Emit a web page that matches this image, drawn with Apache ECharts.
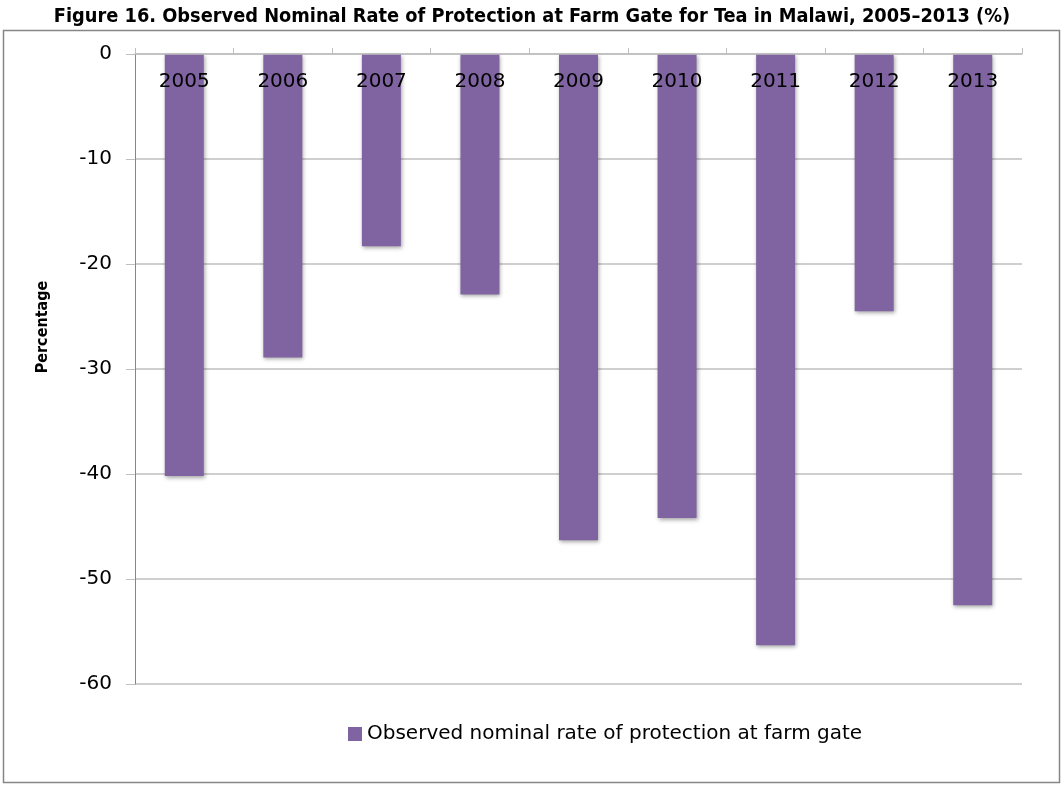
<!DOCTYPE html>
<html>
<head>
<meta charset="utf-8">
<style>
  html, body { margin: 0; padding: 0; background: #ffffff; }
  #chart { width: 1064px; height: 785px; }
</style>
<script src="https://cdn.jsdelivr.net/npm/echarts@6/dist/echarts.min.js"></script>
</head>
<body>
<div id="chart"></div>
<script>
// Years on the category axis
const years = ['2005', '2006', '2007', '2008', '2009', '2010', '2011', '2012', '2013'];
// Observed nominal rate of protection at farm gate (%)
const nrpValues = [-40.2, -28.9, -18.3, -22.9, -46.3, -44.2, -56.3, -24.5, -52.5];
// Value axis ticks
const yTicks = [0, -10, -20, -30, -40, -50, -60];

const seriesName = 'Observed nominal rate of protection at farm gate';
const barColor = '#8064A2';

const chart = echarts.init(document.getElementById('chart'), null, { renderer: 'canvas' });

chart.setOption({
  backgroundColor: '#ffffff',
  animation: false,
  title: {
    text: 'Figure 16. Observed Nominal Rate of Protection at Farm Gate for Tea in Malawi, 2005\u20132013 (%)',
    left: 'center',
    top: 2,
    textStyle: {
      fontFamily: 'DejaVu Sans Condensed',
      fontWeight: 'bold',
      fontSize: 19.8,
      color: '#000000'
    }
  },
  graphic: [{
    type: 'rect',
    shape: { x: 3.5, y: 30.5, width: 1056, height: 752 },
    style: { fill: 'none', stroke: '#868686', lineWidth: 1.5 },
    silent: true,
    z: -1
  }, {
    // value axis title, centred on the upper part of the plot
    type: 'text',
    x: 43,
    y: 327,
    rotation: Math.PI / 2,
    style: {
      text: 'Percentage',
      fontFamily: 'DejaVu Sans Condensed',
      fontWeight: 'bold',
      fontSize: 16,
      fill: '#000000',
      align: 'center',
      verticalAlign: 'middle'
    },
    silent: true
  }],
  legend: {
    data: [seriesName],
    left: 343,
    top: 719,
    itemWidth: 14,
    itemHeight: 14,
    itemGap: 6,
    icon: 'rect',
    textStyle: {
      fontFamily: 'DejaVu Sans',
      fontSize: 20,
      color: '#000000'
    }
  },
  grid: {
    left: 135,
    right: 42,
    top: 54,
    bottom: 101,
    containLabel: false
  },
  xAxis: {
    type: 'category',
    data: years,
    position: 'top',
    z: 10,
    axisLine: { onZero: false, lineStyle: { color: '#bfbfbf', width: 1.5 } },
    axisTick: { show: true, inside: false, length: 6, lineStyle: { color: '#bfbfbf' } },
    axisLabel: {
      inside: true,
      margin: 18,
      fontFamily: 'DejaVu Sans',
      fontSize: 20,
      color: '#000000'
    },
    splitLine: { show: false }
  },
  yAxis: {
    type: 'value',
    min: -60,
    max: 0,
    interval: 10,
    axisLine: { show: true, lineStyle: { color: '#868686', width: 1 } },
    axisTick: { show: true, length: 9, lineStyle: { color: '#bfbfbf' } },
    axisLabel: {
      margin: 23,
      fontFamily: 'DejaVu Sans',
      fontSize: 20,
      color: '#000000',
      formatter: function (v) { return yTicks.indexOf(v) >= 0 ? String(v) : ''; }
    },
    splitLine: { show: true, lineStyle: { color: '#bfbfbf', width: 1.5 } }
  },
  series: [{
    name: seriesName,
    type: 'bar',
    data: nrpValues,
    barWidth: 39,
    itemStyle: {
      color: barColor,
      shadowColor: 'rgba(0,0,0,0.35)',
      shadowBlur: 4,
      shadowOffsetX: 1,
      shadowOffsetY: 2
    }
  }]
});
</script>
</body>
</html>
